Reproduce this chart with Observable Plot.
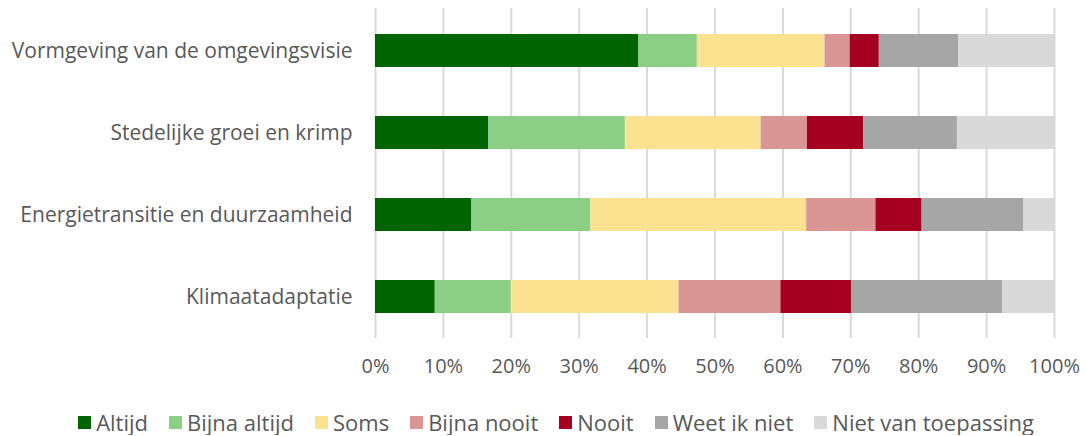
<!DOCTYPE html>
<html><head><meta charset="utf-8">
<script src="https://cdn.jsdelivr.net/npm/d3@7"></script>
<script src="https://cdn.jsdelivr.net/npm/@observablehq/plot@0.6"></script>
<style>
body{margin:0;background:#fff;font-family:"Open Sans",sans-serif;}
#legend{display:flex;justify-content:center;margin-top:19px;padding-left:26px;line-height:26px;font-size:22px;color:#595959;}
#legend .item{display:flex;align-items:center;margin:0 10.5px;}
#legend .sw{width:13px;height:13px;margin-right:5px;}
</style>
</head><body><div id="chart"></div><div id="legend"></div>
<script>
const categories = ["Vormgeving van de omgevingsvisie","Stedelijke groei en krimp","Energietransitie en duurzaamheid","Klimaatadaptatie"];
const seriesNames = ["Altijd","Bijna altijd","Soms","Bijna nooit","Nooit","Weet ik niet","Niet van toepassing"];
const colors = ["#006400","#8bcf87","#fbe291","#da9694","#a50021","#a6a6a6","#d9d9d9"];
const altijd = [38.8, 16.7, 14.2, 8.8];
const bijnaAltijd = [8.6, 20.1, 17.5, 11.2];
const soms = [18.8, 20.0, 31.8, 24.7];
const bijnaNooit = [3.7, 6.8, 10.2, 15.0];
const nooit = [4.3, 8.3, 6.8, 10.4];
const weetIkNiet = [11.7, 13.8, 15.0, 22.3];
const nietVanToepassing = [14.1, 14.3, 4.5, 7.6];
const xTicks = [0,10,20,30,40,50,60,70,80,90,100];

const seriesValues = [altijd, bijnaAltijd, soms, bijnaNooit, nooit, weetIkNiet, nietVanToepassing];
const data = [];
categories.forEach((c, i) => seriesValues.forEach((vals, s) => data.push({category: c, series: seriesNames[s], order: s, value: vals[i]})));

const chart = Plot.plot({
  width: 1086,
  height: 390,
  marginLeft: 375,
  marginRight: 32,
  marginTop: 8,
  marginBottom: 52,
  style: {fontFamily: "'Open Sans', sans-serif", fontSize: "20px", color: "#595959", background: "#fff"},
  x: {domain: [0, 100], ticks: xTicks, tickFormat: d => d + "%"},
  y: {domain: categories, paddingInner: 0.6, paddingOuter: 0.3},
  color: {domain: seriesNames, range: colors},
  marks: [
    Plot.ruleX(xTicks, {stroke: "#d9d9d9", strokeWidth: 2}),
    Plot.barX(data, Plot.stackX({x: "value", y: "category", fill: "series", order: "order", inset: 0})),
    Plot.axisX({ticks: xTicks, tickFormat: d => d + "%", tickSize: 0, tickPadding: 20, label: null, fontSize: 20}),
    Plot.axisY({tickSize: 0, tickPadding: 23, label: null, fontSize: 21})
  ]
});
document.getElementById("chart").appendChild(chart);

const legend = document.getElementById("legend");
seriesNames.forEach((n, i) => {
  const it = document.createElement("div"); it.className = "item";
  const sw = document.createElement("div"); sw.className = "sw"; sw.style.background = colors[i];
  const t = document.createElement("span"); t.textContent = n;
  it.appendChild(sw); it.appendChild(t); legend.appendChild(it);
});
</script></body></html>
